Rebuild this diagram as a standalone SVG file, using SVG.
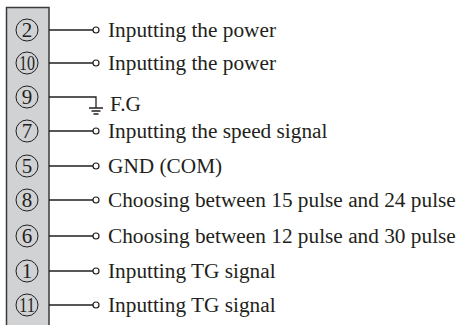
<svg xmlns="http://www.w3.org/2000/svg" width="460" height="325" viewBox="0 0 460 325">
<style>
.lbl{font-family:"Liberation Serif","Times New Roman",serif;font-size:21.3px;fill:#231f20}
.num{font-family:"Liberation Serif","Times New Roman",serif;font-size:21px;fill:#231f20;text-anchor:middle}
.ring{fill:none;stroke:#231f20;stroke-width:1}
.wire{fill:none;stroke:#231f20;stroke-width:1.3}
.term{fill:#fff;stroke:#231f20;stroke-width:1.2}
</style>
<rect id="block" x="6.5" y="7.5" width="42.5" height="330" fill="#d1d2d4" stroke="#3a3a3a" stroke-width="1.5"/>
<g id="connectors">
<path class="wire" d="M49 30H93M49 63H93M49 97H96V108M49 131H93M49 166H93M49 200H93M49 236H93M49 271H93M49 305H93"/>
<path class="wire" d="M89 108H103M91.5 111H100.5M93.5 114H98.5"/>
</g>
<g id="p2"><circle class="ring" cx="27" cy="30" r="11"/><text class="num" x="27" y="37">2</text><circle class="term" cx="96" cy="30" r="3"/><text class="lbl" x="108" y="37">Inputting the power</text></g>
<g id="p10"><circle class="ring" cx="27" cy="63" r="11"/><text class="num" x="27" y="70" textLength="16" lengthAdjust="spacingAndGlyphs">10</text><circle class="term" cx="96" cy="63" r="3"/><text class="lbl" x="108" y="70">Inputting the power</text></g>
<g id="p9"><circle class="ring" cx="27" cy="97" r="11"/><text class="num" x="27" y="104">9</text><text class="lbl" x="110" y="110.5">F.G</text></g>
<g id="p7"><circle class="ring" cx="27" cy="131" r="11"/><text class="num" x="27" y="138">7</text><circle class="term" cx="96" cy="131" r="3"/><text class="lbl" x="108" y="138">Inputting the speed signal</text></g>
<g id="p5"><circle class="ring" cx="27" cy="166" r="11"/><text class="num" x="27" y="173">5</text><circle class="term" cx="96" cy="166" r="3"/><text class="lbl" x="108" y="173">GND (COM)</text></g>
<g id="p8"><circle class="ring" cx="27" cy="200" r="11"/><text class="num" x="27" y="207">8</text><circle class="term" cx="96" cy="200" r="3"/><text class="lbl" x="108" y="207">Choosing between 15 pulse and 24 pulse</text></g>
<g id="p6"><circle class="ring" cx="27" cy="236" r="11"/><text class="num" x="27" y="243">6</text><circle class="term" cx="96" cy="236" r="3"/><text class="lbl" x="108" y="243">Choosing between 12 pulse and 30 pulse</text></g>
<g id="p1"><circle class="ring" cx="27" cy="271" r="11"/><text class="num" x="27" y="278">1</text><circle class="term" cx="96" cy="271" r="3"/><text class="lbl" x="108" y="278">Inputting TG signal</text></g>
<g id="p11"><circle class="ring" cx="27" cy="305" r="11"/><text class="num" x="27" y="312" textLength="16" lengthAdjust="spacingAndGlyphs">11</text><circle class="term" cx="96" cy="305" r="3"/><text class="lbl" x="108" y="312">Inputting TG signal</text></g>
</svg>
